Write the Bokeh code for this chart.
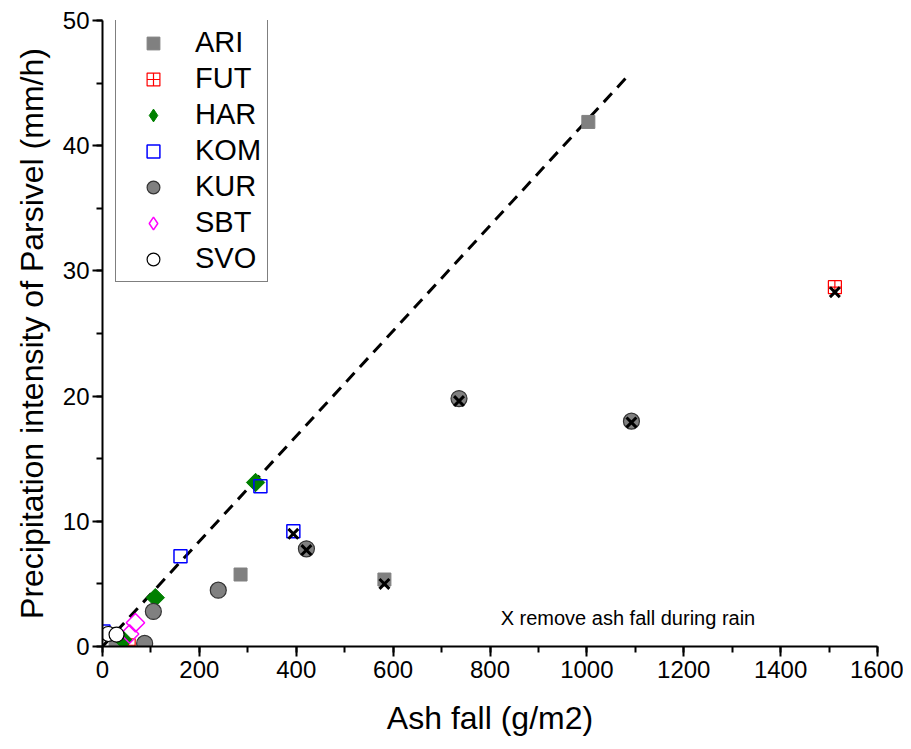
import math
from bokeh.plotting import figure
from bokeh.models import Range1d, SingleIntervalTicker, Legend, LegendItem
from bokeh.core.properties import value
from bokeh.embed import file_html
from bokeh.resources import INLINE

# Data
ari_x = [1003, 285, 582, 27]
ari_y = [41.9, 5.75, 5.35, 0.3]
fut_x = [1512, 54]
fut_y = [28.7, 0.1]
har_x = [316, 109, 43]
har_y = [13.1, 3.9, 0.5]
kom_x = [326, 161, 394, 2]
kom_y = [12.8, 7.2, 9.2, 1.2]
kur_x = [736, 1092, 421, 239, 105, 87]
kur_y = [19.8, 18.0, 7.8, 4.5, 2.8, 0.25]
sbt_x = [68, 56]
sbt_y = [1.9, 1.0]
svo_x = [12, 29]
svo_y = [1.0, 0.95]
removed_x = [394, 421, 582, 736, 1092, 1512]
removed_y = [9.0, 7.7, 5.0, 19.6, 17.9, 28.3]
fit_x = [0, 1090]
fit_y = [0, 45.8]
note_text = "X remove ash fall during rain"

FONT = "Liberation Sans"

p = figure(width=903, height=741, output_backend="svg", toolbar_location=None,
           x_range=Range1d(0, 1600), y_range=Range1d(0, 50),
           min_border_left=102, min_border_right=26, min_border_top=20, min_border_bottom=95)
p.outline_line_color = None
p.xgrid.visible = False
p.ygrid.visible = False
p.background_fill_color = "white"

p.xaxis.ticker = SingleIntervalTicker(interval=200, num_minor_ticks=2)
p.yaxis.ticker = SingleIntervalTicker(interval=10, num_minor_ticks=2)
for ax in (p.xaxis, p.yaxis):
    ax.axis_line_width = 2
    ax.axis_line_color = "black"
    ax.major_tick_line_width = 2
    ax.minor_tick_line_width = 2
    ax.major_tick_out = 10
    ax.major_tick_in = 0
    ax.minor_tick_out = 6
    ax.minor_tick_in = 0
    ax.major_label_text_font = FONT
    ax.major_label_text_font_size = "24px"
    ax.major_label_text_color = "black"
    ax.axis_label_text_font = FONT
    ax.axis_label_text_font_size = "32px"
    ax.axis_label_text_font_style = "normal"
    ax.axis_label_text_color = "black"
p.xaxis.axis_label = "Ash fall (g/m2)"
p.yaxis.axis_label = "Precipitation intensity of Parsivel (mm/h)"
p.xaxis.axis_label_standoff = 19
p.yaxis.axis_label_standoff = 10
p.xaxis.major_label_standoff = 4
p.yaxis.major_label_standoff = 3

p.line(fit_x, fit_y, line_color="black", line_width=3, line_dash="12 8")

r_ari = p.scatter(ari_x, ari_y, marker="square", size=13, fill_color="#808080", line_color="#808080")
r_fut = p.scatter(fut_x, fut_y, marker="square_cross", size=13, fill_color=None, line_color="red", line_width=1.2)
r_har = p.scatter(har_x, har_y, marker="square", angle=math.pi / 4, size=13, fill_color="green", line_color="green")
r_kom = p.scatter(kom_x, kom_y, marker="square", size=13, fill_color=None, line_color="blue", line_width=1.5)
r_kur = p.scatter(kur_x, kur_y, marker="circle", size=16, fill_color="#808080", line_color="#333333", line_width=1.2)
r_sbt = p.scatter(sbt_x, sbt_y, marker="square", angle=math.pi / 4, size=13, fill_color=None, line_color="magenta", line_width=1.5)
r_svo = p.scatter(svo_x, svo_y, marker="circle", size=15, fill_color="white", line_color="black", line_width=1.2)
p.scatter(removed_x, removed_y, marker="x", size=14, line_color="black", line_width=3)

# hidden legend-only glyphs for the diamond series (legend ignores marker rotation)
l_har = p.scatter(har_x, har_y, marker="diamond", size=13, fill_color="green", line_color="green", visible=False)
l_sbt = p.scatter(sbt_x, sbt_y, marker="diamond", size=13, fill_color=None, line_color="magenta",
                  line_width=1.5, visible=False)

p.text(x=[822], y=[2.3], text=[note_text], text_font=value(FONT), text_font_size="20px",
       text_baseline="middle", text_align="left", text_color="black")

legend = Legend(items=[
    LegendItem(label="ARI", renderers=[r_ari]),
    LegendItem(label="FUT", renderers=[r_fut]),
    LegendItem(label="HAR", renderers=[l_har]),
    LegendItem(label="KOM", renderers=[r_kom]),
    LegendItem(label="KUR", renderers=[r_kur]),
    LegendItem(label="SBT", renderers=[l_sbt]),
    LegendItem(label="SVO", renderers=[r_svo]),
], location=(13, 364))
legend.border_line_color = "black"
legend.border_line_width = 1
legend.background_fill_alpha = 1
legend.inactive_fill_alpha = 0
legend.label_text_font = FONT
legend.label_text_font_size = "29px"
legend.label_text_color = "black"
legend.glyph_height = 32
legend.label_height = 32
legend.glyph_width = 62
legend.spacing = 3
legend.padding = 6
legend.margin = 0
legend.label_standoff = 11
p.add_layout(legend, "center")

open("out.html", "w").write(file_html(p, INLINE))
